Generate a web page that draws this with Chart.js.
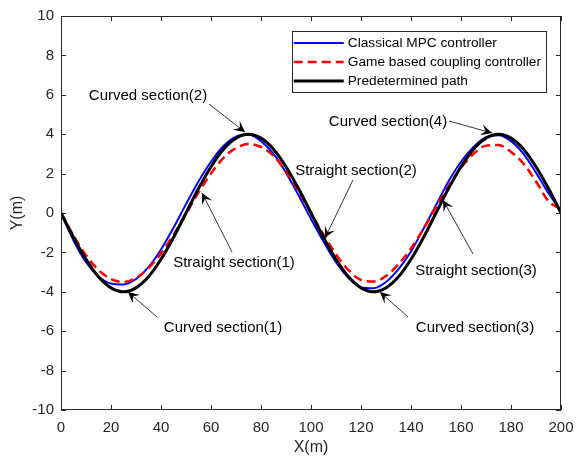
<!DOCTYPE html>
<html>
<head>
<meta charset="utf-8">
<script src="https://cdn.jsdelivr.net/npm/chart.js@4.4.1/dist/chart.umd.min.js"></script>
<style>
  html, body { margin: 0; padding: 0; background: #fff; }
  #wrap { width: 576px; height: 457px; }
</style>
</head>
<body>
<div id="wrap"><canvas id="pathChart" width="576" height="457"></canvas></div>
<script>
// --- Data ---
const xValues = [0, 5, 10, 15, 20, 25, 30, 35, 40, 45, 50, 55, 60, 65, 70, 75, 80, 85, 90, 95,
                 100, 105, 110, 115, 120, 125, 130, 135, 140, 145, 150, 155, 160, 165, 170, 175, 180, 185, 190, 195, 200];

// Predetermined path (black)
const pathY = [0, -1.24, -2.35, -3.24, -3.80, -4.00, -3.80, -3.24, -2.35, -1.24, 0, 1.24, 2.35, 3.24, 3.80, 4.00, 3.80, 3.24, 2.35, 1.24,
               0, -1.24, -2.35, -3.24, -3.80, -4.00, -3.80, -3.24, -2.35, -1.24, 0, 1.24, 2.35, 3.24, 3.80, 4.00, 3.80, 3.24, 2.35, 1.24, 0];

// Classical MPC controller (blue)
const mpcY = [0, -1.40, -2.50, -3.22, -3.58, -3.63, -3.35, -2.75, -1.85, -0.75, 0.45, 1.60, 2.60, 3.40, 3.88, 3.98, 3.65, 3.00, 2.05, 0.90,
              -0.30, -1.45, -2.50, -3.30, -3.78, -3.82, -3.50, -2.85, -1.95, -0.80, 0.40, 1.60, 2.60, 3.35, 3.85, 3.95, 3.65, 3.00, 2.05, 1.00, 0.10];

// Game based coupling controller (red dashed)
const gameY = [0, -1.15, -2.15, -2.90, -3.35, -3.50, -3.30, -2.80, -2.05, -1.10, -0.05, 1.05, 2.00, 2.80, 3.30, 3.50, 3.35, 2.90, 2.10, 1.10,
               0.00, -1.10, -2.10, -2.90, -3.40, -3.48, -3.20, -2.60, -1.80, -0.80, 0.30, 1.35, 2.30, 3.00, 3.42, 3.45, 3.10, 2.50, 1.60, 0.60, 0.20];

const seriesLabels = ['Classical MPC controller', 'Game based coupling controller', 'Predetermined path'];

const xTicks = [0, 20, 40, 60, 80, 100, 120, 140, 160, 180, 200];
const yTicks = [-10, -8, -6, -4, -2, 0, 2, 4, 6, 8, 10];

// annotation label centre, arrow start, arrow tip (data units)
const notes = [
  { text: 'Curved section(2)',   tx: 34.8,  ty: 5.94,  sx: 59.2,  sy: 5.53,  ex: 73.6,  ey: 4.11 },
  { text: 'Straight section(1)', tx: 69.2,  ty: -2.54, sx: 68.4,  sy: -1.98, ex: 56.4,  ey: 1.02 },
  { text: 'Curved section(1)',   tx: 64.8,  ty: -5.84, sx: 38.4,  sy: -5.28, ex: 26.8,  ey: -4.01 },
  { text: 'Straight section(2)', tx: 118.0, ty: 2.13,  sx: 116.8, sy: 1.68,  ex: 105.6, ey: -1.27 },
  { text: 'Curved section(4)',   tx: 130.8, ty: 4.62,  sx: 155.2, sy: 4.67,  ex: 172.4, ey: 4.06 },
  { text: 'Straight section(3)', tx: 166.0, ty: -2.94, sx: 164.8, sy: -2.08, ex: 152.8, ey: 0.66 },
  { text: 'Curved section(3)',   tx: 165.6, ty: -5.84, sx: 138.8, sy: -5.28, ex: 127.6, ey: -4.01 }
];

const FONT = '"Liberation Sans", Arial, Helvetica, sans-serif';
const AXIS_COLOR = '#262626';

function toPoints(ys) {
  return xValues.map((x, i) => ({ x: x, y: ys[i] }));
}

// --- Frame, inward ticks, annotations and legend ---
const decorPlugin = {
  id: 'decor',
  afterDatasetsDraw(chart) {
    const { ctx, chartArea: a, scales } = chart;
    const xs = scales.x, ys = scales.y;
    ctx.save();

    // frame
    ctx.strokeStyle = AXIS_COLOR;
    ctx.lineWidth = 1;
    ctx.strokeRect(a.left + 0.5, a.top + 0.5, a.right - a.left - 1, a.bottom - a.top - 1);

    // inward ticks on all four sides
    const tl = 5;
    ctx.beginPath();
    xTicks.forEach(v => {
      const px = Math.round(xs.getPixelForValue(v)) + 0.5;
      ctx.moveTo(px, a.bottom); ctx.lineTo(px, a.bottom - tl);
      ctx.moveTo(px, a.top); ctx.lineTo(px, a.top + tl);
    });
    yTicks.forEach(v => {
      const py = Math.round(ys.getPixelForValue(v)) + 0.5;
      ctx.moveTo(a.left, py); ctx.lineTo(a.left + tl, py);
      ctx.moveTo(a.right, py); ctx.lineTo(a.right - tl, py);
    });
    ctx.stroke();

    // annotations with arrows
    ctx.font = '15px ' + FONT;
    ctx.fillStyle = '#000';
    ctx.textAlign = 'center';
    ctx.textBaseline = 'middle';
    notes.forEach(n => {
      ctx.fillText(n.text, xs.getPixelForValue(n.tx), ys.getPixelForValue(n.ty));
      const x1 = xs.getPixelForValue(n.sx), y1 = ys.getPixelForValue(n.sy);
      const x2 = xs.getPixelForValue(n.ex), y2 = ys.getPixelForValue(n.ey);
      ctx.strokeStyle = '#000';
      ctx.lineWidth = 0.8;
      ctx.beginPath();
      ctx.moveTo(x1, y1); ctx.lineTo(x2, y2);
      ctx.stroke();
      // vback style head
      const ang = Math.atan2(y2 - y1, x2 - x1);
      const len = 11, half = 5.5, notch = 6.5;
      const cos = Math.cos(ang), sin = Math.sin(ang);
      const bx = x2 - len * cos, by = y2 - len * sin;
      ctx.beginPath();
      ctx.moveTo(x2, y2);
      ctx.lineTo(bx - half * sin, by + half * cos);
      ctx.lineTo(x2 - notch * cos, y2 - notch * sin);
      ctx.lineTo(bx + half * sin, by - half * cos);
      ctx.closePath();
      ctx.fillStyle = '#000';
      ctx.fill();
    });

    // legend box (top right inside the axes)
    ctx.font = '13.7px ' + FONT;
    const sets = chart.data.datasets;
    const textW = Math.max(...sets.map(d => ctx.measureText(d.label).width));
    const lineLen = 50, rowH = 19;
    const boxW = 2 + lineLen + 4 + textW + 5;
    const boxH = rowH * sets.length + 4;
    const bx0 = a.right - 15 - boxW, by0 = a.top + 15;
    ctx.fillStyle = '#fff';
    ctx.fillRect(bx0, by0, boxW, boxH);
    ctx.strokeStyle = AXIS_COLOR;
    ctx.lineWidth = 1;
    ctx.strokeRect(Math.round(bx0) + 0.5, Math.round(by0) + 0.5, Math.round(boxW), Math.round(boxH));
    ctx.textAlign = 'left';
    ctx.textBaseline = 'middle';
    sets.forEach((d, i) => {
      const cy = by0 + 12 + i * rowH;
      ctx.strokeStyle = d.borderColor;
      ctx.lineWidth = d.borderWidth;
      ctx.setLineDash(d.borderDash || []);
      ctx.beginPath();
      ctx.moveTo(bx0 + 2, cy); ctx.lineTo(bx0 + 2 + lineLen, cy);
      ctx.stroke();
      ctx.setLineDash([]);
      ctx.fillStyle = '#000';
      ctx.fillText(d.label, bx0 + 2 + lineLen + 4, cy + 0.5);
    });

    ctx.restore();
  }
};

const ctx = document.getElementById('pathChart').getContext('2d');

new Chart(ctx, {
  type: 'line',
  data: {
    datasets: [
      {
        label: seriesLabels[0],
        data: toPoints(mpcY),
        borderColor: '#0000ff',
        borderWidth: 2,
        pointRadius: 0,
        cubicInterpolationMode: 'monotone',
        fill: false,
        order: 2
      },
      {
        label: seriesLabels[1],
        data: toPoints(gameY),
        borderColor: '#ff0000',
        borderWidth: 2.5,
        borderDash: [9, 5],
        pointRadius: 0,
        cubicInterpolationMode: 'monotone',
        fill: false,
        order: 1
      },
      {
        label: seriesLabels[2],
        data: toPoints(pathY),
        borderColor: '#000000',
        borderWidth: 3,
        pointRadius: 0,
        cubicInterpolationMode: 'monotone',
        fill: false,
        order: 0
      }
    ]
  },
  options: {
    responsive: false,
    animation: false,
    events: [],
    layout: { padding: { top: 16, right: 15, left: 0, bottom: 0 } },
    plugins: {
      legend: { display: false },
      tooltip: { enabled: false }
    },
    scales: {
      x: {
        type: 'linear',
        min: 0,
        max: 200,
        afterFit: s => { s.height = 47; s.paddingLeft = 0; s.paddingRight = 0; },
        afterBuildTicks: s => { s.ticks = xTicks.map(v => ({ value: v })); },
        grid: { display: false, drawTicks: false },
        border: { display: false },
        ticks: { color: AXIS_COLOR, font: { family: FONT, size: 15 }, padding: 9, maxRotation: 0 },
        title: { display: true, text: 'X(m)', color: AXIS_COLOR, font: { family: FONT, size: 16 }, padding: { top: 0, bottom: 0 } }
      },
      y: {
        type: 'linear',
        min: -10,
        max: 10,
        afterFit: s => { s.width = 61; s.paddingTop = 0; s.paddingBottom = 0; },
        afterBuildTicks: s => { s.ticks = yTicks.map(v => ({ value: v })); },
        grid: { display: false, drawTicks: false },
        border: { display: false },
        ticks: { color: AXIS_COLOR, font: { family: FONT, size: 15 }, padding: 7 },
        title: { display: true, text: 'Y(m)', color: AXIS_COLOR, font: { family: FONT, size: 16 }, padding: { top: 8, bottom: 0 } }
      }
    }
  },
  plugins: [decorPlugin]
});
</script>
</body>
</html>
